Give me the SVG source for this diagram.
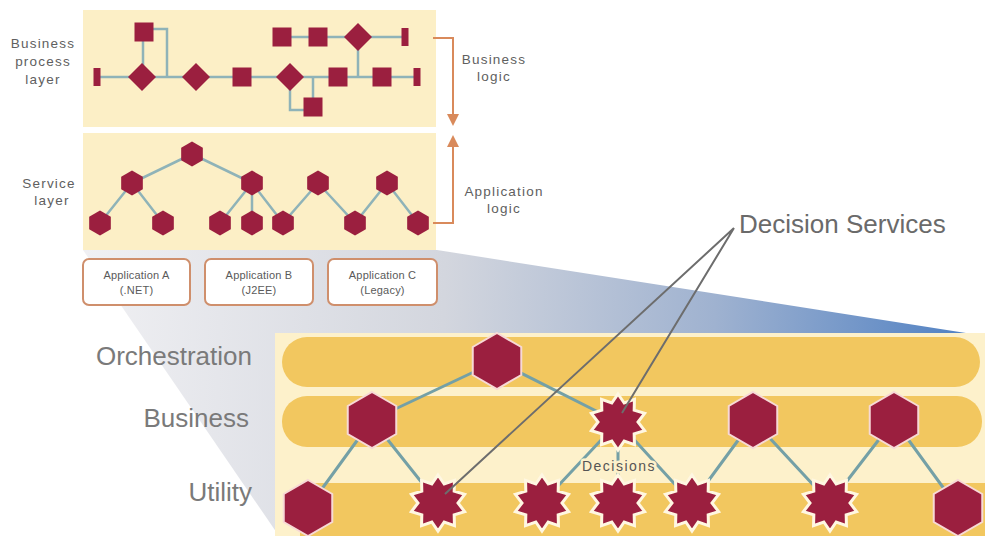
<svg xmlns="http://www.w3.org/2000/svg" xmlns:xlink="http://www.w3.org/1999/xlink" width="985" height="536" viewBox="0 0 985 536">
<defs>
<linearGradient id="wedge" gradientUnits="userSpaceOnUse" x1="83" y1="300" x2="985" y2="336">
<stop offset="0" stop-color="#f0f0f3"/>
<stop offset="0.4" stop-color="#d3d6de"/>
<stop offset="0.7" stop-color="#9fb2d0"/>
<stop offset="1" stop-color="#4c7ec2"/>
</linearGradient>
<path id="star" d="M0,-28 L6.18,-19.02 L16.46,-22.65 L16.18,-11.76 L26.63,-8.65 L20,0 L26.63,8.65 L16.18,11.76 L16.46,22.65 L6.18,19.02 L0,28 L-6.18,19.02 L-16.46,22.65 L-16.18,11.76 L-26.63,8.65 L-20,0 L-26.63,-8.65 L-16.18,-11.76 L-16.46,-22.65 L-6.18,-19.02 Z"/>
<polygon id="hex" points="0,-28 24.25,-14 24.25,14 0,28 -24.25,14 -24.25,-14"/>
<polygon id="shex" points="0,-12.5 10.83,-6.25 10.83,6.25 0,12.5 -10.83,6.25 -10.83,-6.25"/>
<polygon id="dia" points="0,-14 14,0 0,14 -14,0"/>
<rect id="sq" x="-9.5" y="-9.5" width="19" height="19"/>
<rect id="bar" x="-3.5" y="-9" width="7" height="18"/>
</defs>
<style>
.panel{fill:#fcefc6}
.band{fill:#f2c75f}
.node{fill:#9b1f3f}
.bighex{fill:#9b1f3f;stroke:#f7d9d6;stroke-width:2}
.star{fill:#9b1f3f;stroke:#fff7e2;stroke-width:3;stroke-linejoin:miter}
.tline{fill:none;stroke:#8fb3b8;stroke-width:2.5}
.bline{fill:none;stroke:#74a0a6;stroke-width:3}
.orange{fill:none;stroke:#d98a5b;stroke-width:2}
.ahead{fill:#d98a5b}
.ptr{fill:none;stroke:#6d6d6d;stroke-width:2}
.appbox{fill:#ffffff;stroke:#cf8f6c;stroke-width:2}
.small{font-family:"Liberation Sans",Arial,sans-serif;font-size:13.5px;fill:#606060;letter-spacing:1.2px;text-anchor:middle}
.app{font-family:"Liberation Sans",Arial,sans-serif;font-size:11px;fill:#5a5a5a;letter-spacing:0.2px;text-anchor:middle}
.big{font-family:"Liberation Sans",Arial,sans-serif;font-size:26px;fill:#7a7a7a;text-anchor:end}
.ds{font-family:"Liberation Sans",Arial,sans-serif;font-size:26px;fill:#6a6a6a}
.dec{font-family:"Liberation Sans",Arial,sans-serif;font-size:14px;fill:#555;letter-spacing:1.5px;text-anchor:middle;stroke:#fdf1cb;stroke-width:5px;paint-order:stroke;stroke-linejoin:round}
</style>

<g id="background">
<polygon points="83,250 437,250 985,336 985,536 279,536" fill="url(#wedge)"/>
<rect class="panel" x="83" y="10" width="353" height="117"/>
<rect class="panel" x="83" y="133" width="353" height="117"/>
<rect x="275" y="333" width="710" height="203" fill="#fdf1cb"/>
<rect class="band" x="282" y="337" width="698" height="50" rx="25"/>
<rect class="band" x="282" y="396" width="700" height="51" rx="25"/>
<rect class="band" x="300" y="483" width="685" height="53"/>
</g>

<g id="connectors">
<path class="tline" d="M97,77 H417"/>
<path class="tline" d="M143,32 V77"/>
<path class="tline" d="M144,29 H167 V77"/>
<path class="tline" d="M282,37 H405"/>
<path class="tline" d="M358,37 V77"/>
<path class="tline" d="M290,77 V110 H313"/>
<path class="tline" d="M313,77 V107"/>
<path class="tline" d="M192,154 L132,183 M192,154 L252,183 M132,183 L100,223 M132,183 L163,223 M252,183 L220,223 M252,183 L252,223 M252,183 L283,223 L318,183 L355,223 L387,183 L418,223"/>
<path class="orange" d="M433,38 H453 V117"/>
<polygon class="ahead" points="447,114 459,114 453,126"/>
<path class="orange" d="M453,146 V223 H433"/>
<polygon class="ahead" points="447,147 459,147 453,135"/>
<path class="bline" d="M497,361 L372,420 M497,361 L618,422 M372,420 L308,508 M372,420 L438,503 M618,422 L542,503 M618,422 L618,503 M618,422 L692,503 M753,420 L692,503 M753,420 L830,503 M894,420 L830,503 M894,420 L958,508"/>
</g>

<g id="business-process-layer">
<use href="#bar" class="node" x="97" y="77"/>
<use href="#dia" class="node" x="142" y="77"/>
<use href="#sq" class="node" x="144" y="32"/>
<use href="#dia" class="node" x="196" y="77"/>
<use href="#sq" class="node" x="242" y="77"/>
<use href="#dia" class="node" x="290" y="77"/>
<use href="#sq" class="node" x="338" y="77"/>
<use href="#sq" class="node" x="382" y="77"/>
<use href="#bar" class="node" x="417" y="77"/>
<use href="#sq" class="node" x="313" y="107"/>
<use href="#sq" class="node" x="282" y="37"/>
<use href="#sq" class="node" x="318" y="37"/>
<use href="#dia" class="node" x="358" y="37"/>
<use href="#bar" class="node" x="405" y="37"/>
</g>

<g id="service-layer">
<use href="#shex" class="node" x="192" y="154"/>
<use href="#shex" class="node" x="132" y="183"/>
<use href="#shex" class="node" x="252" y="183"/>
<use href="#shex" class="node" x="318" y="183"/>
<use href="#shex" class="node" x="387" y="183"/>
<use href="#shex" class="node" x="100" y="223"/>
<use href="#shex" class="node" x="163" y="223"/>
<use href="#shex" class="node" x="220" y="223"/>
<use href="#shex" class="node" x="252" y="223"/>
<use href="#shex" class="node" x="283" y="223"/>
<use href="#shex" class="node" x="355" y="223"/>
<use href="#shex" class="node" x="418" y="223"/>
</g>

<g id="app-a">
<rect class="appbox" x="83" y="259" width="107" height="46" rx="6"/>
<text class="app" x="136.5" y="279">Application A</text>
<text class="app" x="136.5" y="294">(.NET)</text>
</g>
<g id="app-b">
<rect class="appbox" x="205" y="259" width="108" height="46" rx="6"/>
<text class="app" x="259" y="279">Application B</text>
<text class="app" x="259" y="294">(J2EE)</text>
</g>
<g id="app-c">
<rect class="appbox" x="328" y="259" width="109" height="46" rx="6"/>
<text class="app" x="382.5" y="279">Application C</text>
<text class="app" x="382.5" y="294">(Legacy)</text>
</g>

<g id="orchestration-nodes">
<use href="#hex" class="bighex" x="497" y="361"/>
</g>
<g id="business-nodes">
<use href="#hex" class="bighex" x="372" y="420"/>
<use href="#star" class="star" x="618" y="422"/>
<use href="#hex" class="bighex" x="753" y="420"/>
<use href="#hex" class="bighex" x="894" y="420"/>
</g>
<g id="utility-nodes">
<use href="#hex" class="bighex" x="308" y="508"/>
<use href="#star" class="star" x="438" y="503"/>
<use href="#star" class="star" x="542" y="503"/>
<use href="#star" class="star" x="618" y="503"/>
<use href="#star" class="star" x="692" y="503"/>
<use href="#star" class="star" x="830" y="503"/>
<use href="#hex" class="bighex" x="958" y="508"/>
</g>

<g id="labels">
<text class="small" x="43" y="48">Business</text>
<text class="small" x="43" y="66">process</text>
<text class="small" x="43" y="84">layer</text>
<text class="small" x="49" y="188">Service</text>
<text class="small" x="52" y="205">layer</text>
<text class="small" x="494" y="64">Business</text>
<text class="small" x="494" y="81">logic</text>
<text class="small" x="504" y="196">Application</text>
<text class="small" x="504" y="213">logic</text>
<text class="big" x="252" y="365">Orchestration</text>
<text class="big" x="249" y="427">Business</text>
<text class="big" x="252" y="501">Utility</text>
<text class="dec" x="619" y="471">Decisions</text>
<text class="ds" x="739" y="233">Decision Services</text>
</g>

<g id="decision-pointers">
<path class="ptr" d="M734,228 L445,494 M734,228 L622,413"/>
</g>
</svg>
